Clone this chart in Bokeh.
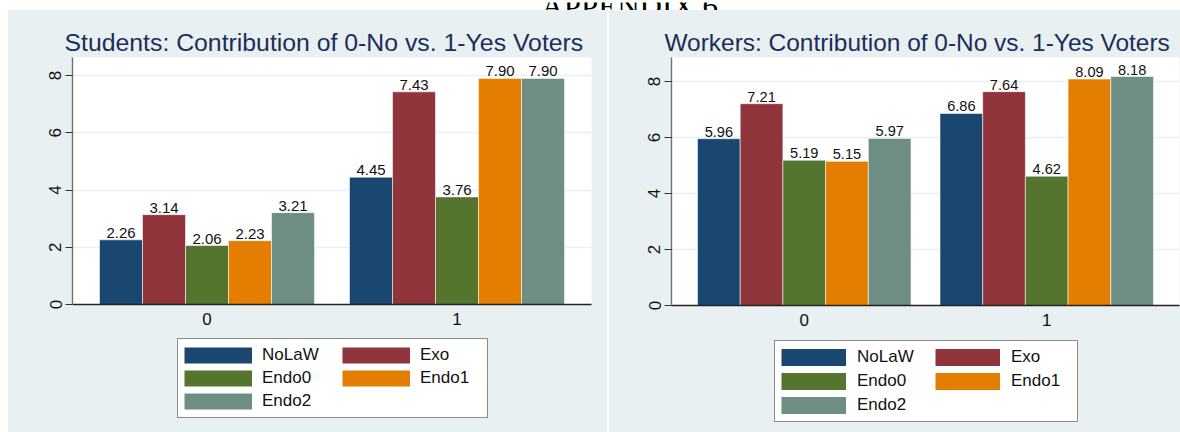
from bokeh.plotting import figure
from bokeh.models import (Range1d, FixedTicker, Legend, LegendItem,
                          ColumnDataSource, Title, Label, Spacer)
from bokeh.layouts import column, row
from bokeh.embed import file_html
from bokeh.resources import INLINE
from bokeh.core.properties import value

# ---------------- data ----------------
page_heading = "APPENDIX 6."
groups = [0, 1]                      # voter: 0-No, 1-Yes
series = ["NoLaW", "Exo", "Endo0", "Endo1", "Endo2"]
colors = ["#1a476f", "#90353b", "#55752f", "#e37e00", "#6e8e84"]

students_title = "Students: Contribution of 0-No vs. 1-Yes Voters"
students_no = [2.26, 3.14, 2.06, 2.23, 3.21]
students_yes = [4.45, 7.43, 3.76, 7.90, 7.90]

workers_title = "Workers: Contribution of 0-No vs. 1-Yes Voters"
workers_no = [5.96, 7.21, 5.19, 5.15, 5.97]
workers_yes = [6.86, 7.64, 4.62, 8.09, 8.18]

y_ticks = [0, 2, 4, 6, 8]

# ---------------- style ----------------
BG = "#e8f0f2"
FONT = "Liberation Sans"
TITLE_COLOR = "#1c2d5c"
CHART_H = 326
LEG_H = 96
NAN = float("nan")


def make_chart(title, no_vals, yes_vals, cfg):
    p = figure(width=cfg["width"], height=CHART_H, output_backend="svg",
               toolbar_location=None,
               x_range=Range1d(-cfg["xpad"], 1 + cfg["xpad"]),
               y_range=Range1d(0, cfg["ytop"]),
               min_border_left=cfg["bl"], min_border_right=cfg["br"],
               min_border_top=47, min_border_bottom=cfg["bb"])
    p.background_fill_color = "white"
    p.border_fill_color = BG
    p.outline_line_color = None

    t = Title(text=title, align="left", offset=cfg["toff"], standoff=3,
              text_font=FONT, text_font_size=cfg["title_size"],
              text_font_style="normal", text_color=TITLE_COLOR)
    p.add_layout(t, "above")

    w = cfg["barw"]
    vals = [no_vals, yes_vals]
    for i, col in enumerate(colors):
        xs = [g + (i - 2) * w for g in groups]
        tops = [vals[k][i] for k in range(len(groups))]
        src = ColumnDataSource(dict(x=xs, top=tops,
                                    lab=["%.2f" % v for v in tops]))
        p.vbar(x="x", top="top", width=w, source=src, fill_color=col,
               line_color="white", line_alpha=0.55, line_width=1)
        p.text(x="x", y="top", text="lab", source=src, text_align="center",
               text_baseline="bottom", y_offset=-2,
               text_font=value(FONT), text_font_size=cfg["lab_size"],
               text_color="#111111")

    p.xaxis.ticker = FixedTicker(ticks=groups)
    p.xaxis.major_tick_out = 0
    p.xaxis.major_tick_in = 0
    p.xaxis.minor_tick_line_color = None
    p.xaxis.axis_line_color = "#222222"
    p.xaxis.axis_line_width = 1.5
    p.xaxis.major_label_standoff = 8
    p.xaxis.major_label_text_font = FONT
    p.xaxis.major_label_text_font_size = "17px"
    p.xaxis.major_label_text_color = "#111111"

    p.yaxis.ticker = FixedTicker(ticks=y_ticks)
    p.yaxis.major_label_orientation = "vertical"
    p.yaxis.major_tick_out = 7
    p.yaxis.major_tick_in = 0
    p.yaxis.minor_tick_line_color = None
    p.yaxis.major_tick_line_color = "#333333"
    p.yaxis.major_tick_line_width = 1.2
    p.yaxis.axis_line_color = "#707070"
    p.yaxis.axis_line_width = 1.4
    p.yaxis.major_label_standoff = 4
    p.yaxis.major_label_text_font = FONT
    p.yaxis.major_label_text_font_size = "17px"
    p.yaxis.major_label_text_color = "#111111"

    p.xgrid.grid_line_color = None
    p.ygrid.grid_line_color = BG
    p.ygrid.grid_line_width = 1.6
    return p


def make_legend(cfg):
    q = figure(width=cfg["width"], height=LEG_H, output_backend="svg",
               toolbar_location=None, x_range=Range1d(0, 1),
               y_range=Range1d(0, 1), min_border=0)
    q.axis.visible = False
    q.grid.grid_line_color = None
    q.outline_line_color = None
    q.background_fill_color = BG
    q.border_fill_color = BG
    # legend-only renderers (a single NaN point: nothing is drawn in the plot)
    dummies = [q.line(x=[NAN], y=[NAN], line_color=c,
                      line_width=cfg["patch_h"]) for c in colors]
    common = dict(orientation="vertical", glyph_width=cfg["patch_w"],
                  glyph_height=20, label_height=20,
                  label_standoff=cfg["standoff"], spacing=cfg["spacing"],
                  padding=6, margin=0, label_text_font=FONT,
                  label_text_font_size="17px", label_text_color="#111111")
    legA = Legend(items=[LegendItem(label=series[k], renderers=[dummies[k]])
                         for k in (0, 2, 4)],
                  location=cfg["legA"], label_width=cfg["labw"],
                  border_line_color="#1a1a1a", border_line_width=1.3,
                  background_fill_color="white", background_fill_alpha=1.0,
                  **common)
    legB = Legend(items=[LegendItem(label=series[k], renderers=[dummies[k]])
                         for k in (1, 3)],
                  location=cfg["legB"], label_width=20,
                  border_line_color=None, background_fill_alpha=0.0,
                  **common)
    q.add_layout(legA)
    q.add_layout(legB)
    return q


left_chart = make_chart(students_title, students_no, students_yes, dict(
    width=599, bl=64, br=16, bb=32, xpad=0.538, ytop=8.63, barw=0.172,
    toff=-8, title_size="24.8px", lab_size="15px"))
left_leg = make_legend(dict(width=599, patch_w=68, patch_h=16, standoff=10,
                            spacing=3, labw=219, legA=(105, 14),
                            legB=(270, 44)))

right_chart = make_chart(workers_title, workers_no, workers_yes, dict(
    width=571, bl=62, br=1, bb=31, xpad=0.5475, ytop=8.86, barw=0.1761,
    toff=-7, title_size="24.45px", lab_size="14.6px"))
right_leg = make_legend(dict(width=571, patch_w=65, patch_h=17, standoff=11,
                             spacing=4, labw=214, legA=(103, 10),
                             legB=(264, 41)))

header = figure(width=1180, height=10, output_backend="svg",
                toolbar_location=None, x_range=Range1d(0, 1180),
                y_range=Range1d(0, 10), min_border=0)
header.axis.visible = False
header.grid.grid_line_color = None
header.outline_line_color = None
header.background_fill_color = "white"
header.border_fill_color = "white"
header.add_layout(Label(x=633, y=6, text=page_heading, text_align="center",
                        text_baseline="alphabetic",
                        text_font="Liberation Serif", text_font_size="31px",
                        text_color="#000000"))

panel_style = {"background-color": BG}
layout = column(
    header,
    row(Spacer(width=8, height=CHART_H + LEG_H),
        column(left_chart, left_leg, spacing=0, styles=panel_style),
        Spacer(width=2, height=CHART_H + LEG_H),
        column(right_chart, right_leg, spacing=0, styles=panel_style),
        spacing=0),
    spacing=0)

open("out.html", "w").write(file_html(layout, INLINE))
